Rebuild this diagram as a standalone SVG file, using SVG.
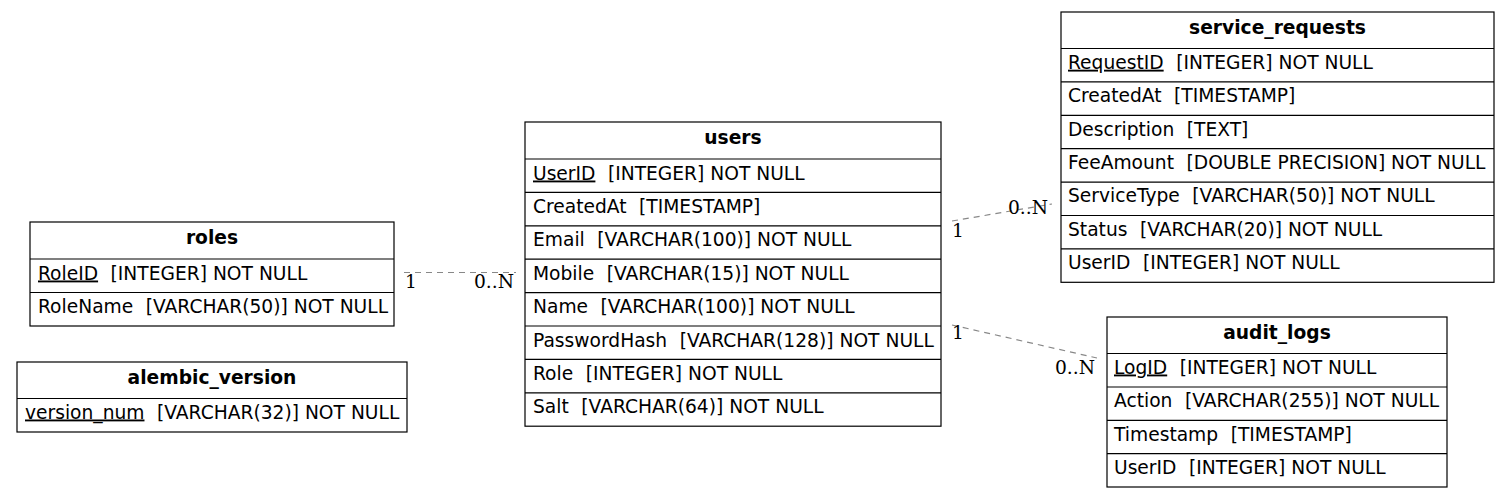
<svg xmlns="http://www.w3.org/2000/svg" width="1509" height="498" viewBox="0 0 1509 498">
<style>
.box{fill:#fff;stroke:#000;stroke-width:1.2}
.sep{stroke:#000;stroke-width:1.2}
.title{font-family:"DejaVu Sans",sans-serif;font-size:18.67px;font-weight:bold;text-anchor:middle;fill:#000}
.col{font-family:"DejaVu Sans",sans-serif;font-size:18.67px;fill:#000}
.pk{text-decoration:underline}
.edge{fill:none;stroke:#888;stroke-width:1.2;stroke-dasharray:6,5}
.card{font-family:"DejaVu Serif",serif;font-size:18.67px;fill:#000}
</style>
<g id="connectors">
<line class="edge" x1="404" y1="272.5" x2="516" y2="272.5"/>
<text class="card" x="405" y="288">1</text>
<text class="card" x="474" y="288">0..N</text>
<line class="edge" x1="952" y1="221" x2="1052" y2="204"/>
<text class="card" x="952" y="237">1</text>
<text class="card" x="1008" y="214">0..N</text>
<line class="edge" x1="952" y1="325" x2="1097" y2="358"/>
<text class="card" x="952" y="339">1</text>
<text class="card" x="1055" y="374">0..N</text>
</g>
<g id="roles">
<rect class="box" x="30" y="222" width="364" height="104"/>
<line class="sep" x1="30" y1="259" x2="394" y2="259"/>
<line class="sep" x1="30" y1="292.5" x2="394" y2="292.5"/>
<text class="title" x="212" y="243.5">roles</text>
<text class="col" x="38" y="279.5"><tspan class="pk">RoleID</tspan><tspan dx="12.5">[INTEGER] NOT NULL</tspan></text>
<text class="col" x="38" y="313">RoleName<tspan dx="12.5">[VARCHAR(50)] NOT NULL</tspan></text>
</g>
<g id="alembic_version">
<rect class="box" x="17" y="362" width="390" height="70"/>
<line class="sep" x1="17" y1="398.5" x2="407" y2="398.5"/>
<text class="title" x="212" y="383.5">alembic_version</text>
<text class="col" x="25" y="418.5"><tspan class="pk">version_num</tspan><tspan dx="12.5">[VARCHAR(32)] NOT NULL</tspan></text>
</g>
<g id="users">
<rect class="box" x="525" y="122" width="416" height="304.2"/>
<line class="sep" x1="525" y1="159" x2="941" y2="159"/>
<line class="sep" x1="525" y1="192.4" x2="941" y2="192.4"/>
<line class="sep" x1="525" y1="225.8" x2="941" y2="225.8"/>
<line class="sep" x1="525" y1="259.2" x2="941" y2="259.2"/>
<line class="sep" x1="525" y1="292.6" x2="941" y2="292.6"/>
<line class="sep" x1="525" y1="326" x2="941" y2="326"/>
<line class="sep" x1="525" y1="359.4" x2="941" y2="359.4"/>
<line class="sep" x1="525" y1="392.8" x2="941" y2="392.8"/>
<text class="title" x="733" y="143.5">users</text>
<text class="col" x="533" y="179.5"><tspan class="pk">UserID</tspan><tspan dx="12.5">[INTEGER] NOT NULL</tspan></text>
<text class="col" x="533" y="212.9">CreatedAt<tspan dx="12.5">[TIMESTAMP]</tspan></text>
<text class="col" x="533" y="246.3">Email<tspan dx="12.5">[VARCHAR(100)] NOT NULL</tspan></text>
<text class="col" x="533" y="279.7">Mobile<tspan dx="12.5">[VARCHAR(15)] NOT NULL</tspan></text>
<text class="col" x="533" y="313.1">Name<tspan dx="12.5">[VARCHAR(100)] NOT NULL</tspan></text>
<text class="col" x="533" y="346.5">PasswordHash<tspan dx="12.5">[VARCHAR(128)] NOT NULL</tspan></text>
<text class="col" x="533" y="379.9">Role<tspan dx="12.5">[INTEGER] NOT NULL</tspan></text>
<text class="col" x="533" y="413.3">Salt<tspan dx="12.5">[VARCHAR(64)] NOT NULL</tspan></text>
</g>
<g id="service_requests">
<rect class="box" x="1061" y="12" width="433" height="270.3"/>
<line class="sep" x1="1061" y1="48.5" x2="1494" y2="48.5"/>
<line class="sep" x1="1061" y1="81.9" x2="1494" y2="81.9"/>
<line class="sep" x1="1061" y1="115.3" x2="1494" y2="115.3"/>
<line class="sep" x1="1061" y1="148.7" x2="1494" y2="148.7"/>
<line class="sep" x1="1061" y1="182.1" x2="1494" y2="182.1"/>
<line class="sep" x1="1061" y1="215.5" x2="1494" y2="215.5"/>
<line class="sep" x1="1061" y1="248.9" x2="1494" y2="248.9"/>
<text class="title" x="1277.5" y="33.5">service_requests</text>
<text class="col" x="1068" y="68.7"><tspan class="pk">RequestID</tspan><tspan dx="12.5">[INTEGER] NOT NULL</tspan></text>
<text class="col" x="1068" y="102.1">CreatedAt<tspan dx="12.5">[TIMESTAMP]</tspan></text>
<text class="col" x="1068" y="135.5">Description<tspan dx="12.5">[TEXT]</tspan></text>
<text class="col" x="1068" y="168.9">FeeAmount<tspan dx="12.5">[DOUBLE PRECISION] NOT NULL</tspan></text>
<text class="col" x="1068" y="202.3">ServiceType<tspan dx="12.5">[VARCHAR(50)] NOT NULL</tspan></text>
<text class="col" x="1068" y="235.7">Status<tspan dx="12.5">[VARCHAR(20)] NOT NULL</tspan></text>
<text class="col" x="1068" y="269.1">UserID<tspan dx="12.5">[INTEGER] NOT NULL</tspan></text>
</g>
<g id="audit_logs">
<rect class="box" x="1107" y="317" width="340" height="170"/>
<line class="sep" x1="1107" y1="353.5" x2="1447" y2="353.5"/>
<line class="sep" x1="1107" y1="387" x2="1447" y2="387"/>
<line class="sep" x1="1107" y1="420.3" x2="1447" y2="420.3"/>
<line class="sep" x1="1107" y1="453.7" x2="1447" y2="453.7"/>
<text class="title" x="1277" y="338.5">audit_logs</text>
<text class="col" x="1114" y="373.5"><tspan class="pk">LogID</tspan><tspan dx="12.5">[INTEGER] NOT NULL</tspan></text>
<text class="col" x="1114" y="407">Action<tspan dx="12.5">[VARCHAR(255)] NOT NULL</tspan></text>
<text class="col" x="1114" y="440.5">Timestamp<tspan dx="12.5">[TIMESTAMP]</tspan></text>
<text class="col" x="1114" y="474">UserID<tspan dx="12.5">[INTEGER] NOT NULL</tspan></text>
</g>
</svg>
